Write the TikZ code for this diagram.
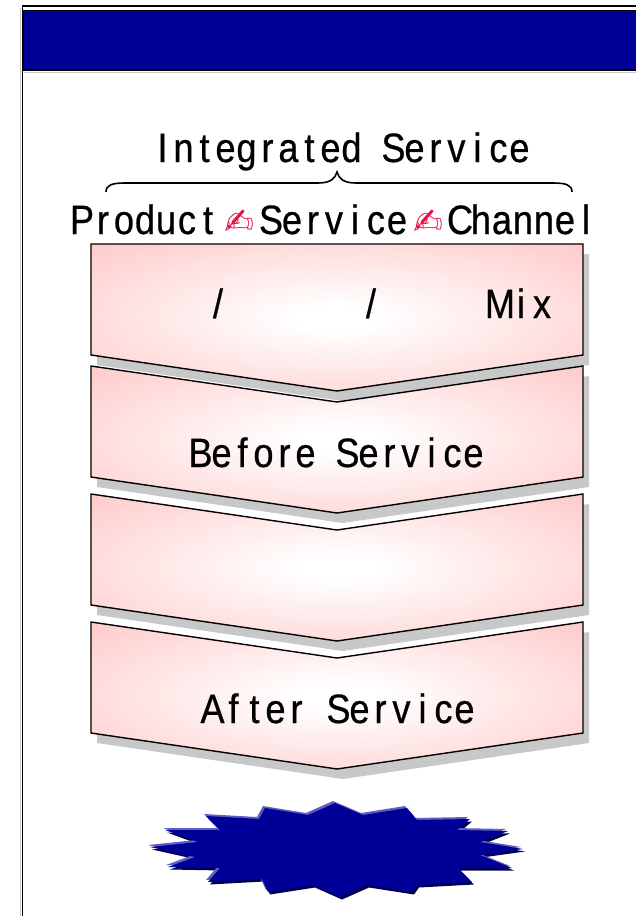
\documentclass[tikz,border=0pt]{standalone}
\usepackage{graphicx}
\usepackage{fontspec}
\newfontfamily\gfont[FakeStretch=0.88,FakeBold=0.6]{Liberation Sans}
\newfontfamily\djv{DejaVu Sans}
\definecolor{hdr}{RGB}{0,0,153}
\definecolor{pk}{RGB}{255,198,198}
\definecolor{shd}{RGB}{200,200,200}
\definecolor{penred}{RGB}{230,20,70}
\definecolor{starhi}{RGB}{95,95,195}
\definecolor{starlo}{RGB}{0,0,80}
\pgfdeclareradialshading{pinkrad}{\pgfpoint{0bp}{0bp}}{color(0bp)=(white); color(4bp)=(white); color(38bp)=(pk); color(100bp)=(pk)}
\newlength\cw \setlength\cw{21pt}
\def\monoA#1{\ifx#1\relax\else\makebox[\cw]{#1}\expandafter\monoA\fi}
\newcommand\mono[1]{\monoA#1\relax}
\newcommand\penc{\makebox[2\cw]{\textcolor{penred}{\resizebox{30pt}{!}{\djv ✍}}}}
\begin{document}
\begin{tikzpicture}[x=1pt,y=-1pt,
  txt/.style={anchor=base,inner sep=0pt,font=\gfont\fontsize{41}{41}\selectfont},
  chevbox/.style={shading=pinkrad,draw=black,line width=1.4pt},
  chevshadow/.style={fill=shd,shift={(6,10)}}]
\useasboundingbox (0,0) rectangle (635,916);
\fill[white] (0,0) rectangle (635,916);
% frame
\draw[shd,line width=1pt] (20.5,930) -- (20.5,8);
\draw[line width=1.5pt] (22.5,930) -- (22.5,6) -- (660,6);
\path[fill=hdr,draw=black,line width=1.5pt] (23,10.5) rectangle (660,70);
\draw[shd,line width=1pt] (24,72) -- (660,72);
% chevron 1
\fill[chevshadow] (91,244) -- (583,244) -- (583,355) -- (337,391) -- (91,355) -- cycle;
\shadedraw[chevbox] (91,244) -- (583,244) -- (583,355) -- (337,391) -- (91,355) -- cycle;
% chevrons 2-4
\foreach \t in {366,494,622}{
  \fill[chevshadow] (91,\t) -- (337,\t+36) -- (583,\t) -- (583,\t+111) -- (337,\t+147) -- (91,\t+111) -- cycle;
  \shadedraw[chevbox] (91,\t) -- (337,\t+36) -- (583,\t) -- (583,\t+111) -- (337,\t+147) -- (91,\t+111) -- cycle;
}
% brace
\draw[line width=1.6pt] (106,192) .. controls (106,185) and (112,183) .. (125,183) -- (318,183)
  .. controls (330,183) and (335,179) .. (337,172) .. controls (339,179) and (344,183) .. (356,183)
  -- (553,183) .. controls (566,183) and (572,185) .. (572,192);
% texts
\node[txt] (is) at (341,162) {\mono{Integrated~Service}};
\node[txt] (psc) at (334,234) {\mono{Product}\penc\mono{Service}\penc\mono{Channel}};
\node[txt] (s1) at (218,318) {/};
\node[txt] (s2) at (371,318) {/};
\node[txt] (mix) at (521,318) {\mono{Mix}};
\node[txt] (bs) at (337,467) {\mono{Before~Service}};
\node[txt] (as) at (338.5,723) {\mono{After~Service}};
% star
\def\starpath{(335,803) -- (363,815) -- (407,808) -- (417,820) -- (470,819) -- (457,830) -- (508,831) -- (480,842) -- (523,849) -- (480,855) -- (512,868) -- (458,868) -- (472,882) -- (417,885) -- (412,892) -- (367,885) -- (340,897) -- (313,885) -- (268,892) -- (262,879) -- (208,882) -- (220,868) -- (168,867) -- (195,857) -- (150,847) -- (198,842) -- (165,830) -- (220,830) -- (206,816) -- (259,819) -- (265,808) -- (308,815) -- cycle}
\fill[starlo,shift={(2,2.5)}] \starpath;
\fill[starhi,shift={(-2,-2)}] \starpath;
\fill[hdr] \starpath;
\end{tikzpicture}
\end{document}
